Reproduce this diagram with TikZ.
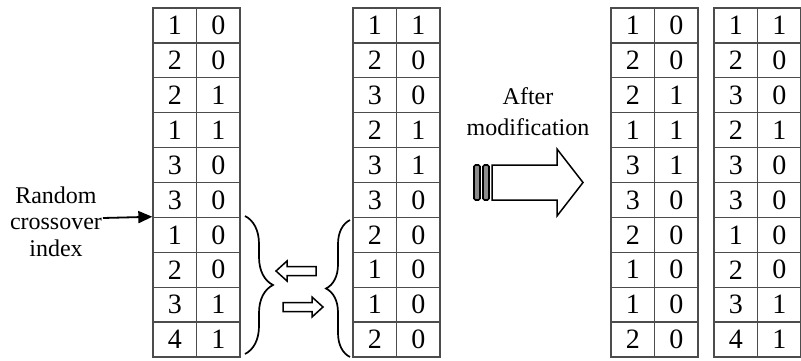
\documentclass[tikz,border=0pt]{standalone}
\usepackage{fontspec}
\setmainfont{Liberation Serif}
\usetikzlibrary{arrows.meta,decorations.pathreplacing}
\begin{document}
\begin{tikzpicture}[x=1pt,y=-1pt,
  cell/.style={font=\fontsize{28}{30}\selectfont, draw=black!70, line width=1.3pt,
    minimum width=43.5pt, minimum height=34.9pt, inner sep=0pt},
  lbl/.style={align=center, inner sep=0pt},
  brc/.style={decorate, line width=1.7pt},
  hollow/.style={draw=black, line width=1.5pt, fill=white, line join=miter},
  tailbar/.style={draw=black, line width=1.6pt, fill=black!45, rounded corners=1.5pt}]
\useasboundingbox (0,0) rectangle (801,360);

% four two-column chromosome tables: name / left edge / rows
\foreach \tn/\tx/\vals in {
  t1/153/{1/0,2/0,2/1,1/1,3/0,3/0,1/0,2/0,3/1,4/1},
  t2/353/{1/1,2/0,3/0,2/1,3/1,3/0,2/0,1/0,1/0,2/0},
  t3/611/{1/0,2/0,2/1,1/1,3/1,3/0,2/0,1/0,1/0,2/0},
  t4/714/{1/1,2/0,3/0,2/1,3/0,3/0,1/0,2/0,3/1,4/1}} {
  \foreach \p/\q [count=\r] in \vals {
    \node[cell] (\tn-\r-1) at ({\tx+21.75},{8+(\r-0.5)*34.9}) {\p};
    \node[cell] (\tn-\r-2) at ({\tx+65.25},{8+(\r-0.5)*34.9}) {\q};
  }
}

% crossover point label and pointer
\node[lbl, font=\fontsize{24}{26.5}\selectfont] (xlabel) at (56,221.5) {Random\\crossover\\index};
\coordinate (xo) at (103,218);
\draw[line width=1.8pt, -{Triangle[length=14pt,width=12pt]}] (xo) -- (t1-7-1.north west);

% braces around the swapped tails
\coordinate (b1a) at (245,216);
\coordinate (b1b) at (245,354);
\coordinate (b2a) at (350,357);
\coordinate (b2b) at (350,220);
\draw[brc, decoration={brace, amplitude=28pt}] (b1a) -- (b1b);
\draw[brc, decoration={brace, amplitude=24pt}] (b2a) -- (b2b);

% exchange arrows
\draw[hollow] (316,266.5) -- (287,266.5) -- (287,261) -- (276,271)
  -- (287,281) -- (287,275.5) -- (316,275.5) -- cycle;
\draw[hollow] (283,302.5) -- (312,302.5) -- (312,297) -- (323,307)
  -- (312,317) -- (312,311.5) -- (283,311.5) -- cycle;

% modification step
\node[lbl, font=\fontsize{24}{31}\selectfont] (after) at (528,111.5) {After\\modification};
\draw[tailbar] (474,165) rectangle (480,200);
\draw[tailbar] (483,165) rectangle (489,200);
\draw[hollow] (492,165) -- (557,165) -- (557,149) -- (583,182.5)
  -- (557,216) -- (557,200) -- (492,200) -- cycle;
\end{tikzpicture}
\end{document}
